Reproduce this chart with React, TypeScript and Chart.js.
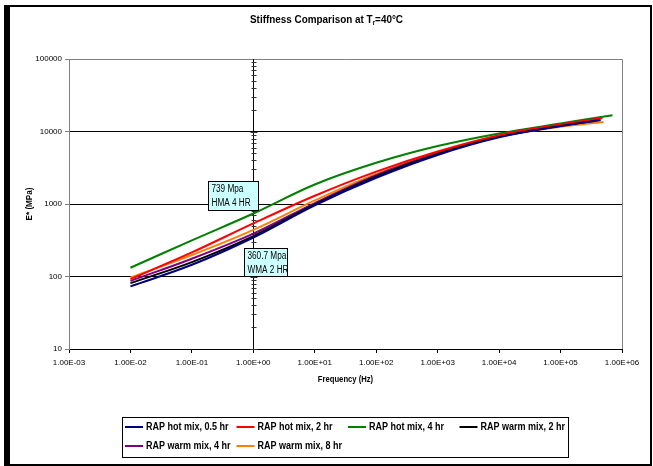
import React, { useEffect, useRef } from "react";
import { Chart, registerables } from "chart.js";
Chart.register(...registerables);

// ---- data ----
const seriesLabels = [
  "RAP hot mix, 0.5 hr",
  "RAP hot mix, 2 hr",
  "RAP hot mix, 4 hr",
  "RAP warm mix, 2 hr",
  "RAP warm mix, 4 hr",
  "RAP warm mix, 8 hr",
];
const seriesColors = ["#000080", "#FF0000", "#008000", "#000000", "#800080", "#FF8000"];

const hot05Freq = [0.01, 0.1, 1, 10, 100, 1000, 10000, 100000, 450000];
const hot05Values = [73, 145, 345, 960, 2300, 4750, 8300, 11900, 14400];
const hot2Freq = [0.01, 0.1, 1, 10, 100, 1000, 10000, 100000, 480000];
const hot2Values = [92, 215, 540, 1300, 2800, 5300, 8900, 12500, 15300];
const hot4Freq = [0.01, 0.1, 1, 10, 100, 1000, 10000, 100000, 700000];
const hot4Values = [132, 315, 739, 1860, 3700, 6300, 9400, 12900, 16800];
const warm2Freq = [0.01, 0.1, 1, 10, 100, 1000, 10000, 100000, 400000];
const warm2Values = [81, 158, 360.7, 985, 2400, 4900, 8500, 12000, 14200];
const warm4Freq = [0.01, 0.1, 1, 10, 100, 1000, 10000, 100000, 400000];
const warm4Values = [87, 176, 390, 1030, 2500, 5000, 8700, 12300, 14900];
const warm8Freq = [0.01, 0.1, 1, 10, 100, 1000, 10000, 100000, 500000];
const warm8Values = [97, 198, 440, 1120, 2600, 5100, 8500, 11600, 13500];

const seriesFreqs = [hot05Freq, hot2Freq, hot4Freq, warm2Freq, warm4Freq, warm8Freq];
const seriesValues = [hot05Values, hot2Values, hot4Values, warm2Values, warm4Values, warm8Values];

const xTickValues = [1e-3, 1e-2, 1e-1, 1, 1e1, 1e2, 1e3, 1e4, 1e5, 1e6];
const yTickValues = [10, 100, 1000, 10000, 100000];
const yGridValues = [100, 1000, 10000];

const annotX = [1, 1];
const annotY = [739, 360.7];
const annotText = [
  ["739 Mpa", "HMA 4 HR"],
  ["360.7 Mpa", "WMA 2 HR"],
];

const titleMain = "Stiffness Comparison at T";
const titleSub = "r";
const titleEnd = "=40°C";
const xTitle = "Frequency (Hz)";
const yTitle = "E* (MPa)";

const FONT = '"Liberation Sans", Arial, sans-serif';

function sci(v: number): string {
  const e = Math.floor(Math.log10(v) + 1e-9);
  const m = v / Math.pow(10, e);
  const sign = e < 0 ? "-" : "+";
  return m.toFixed(2) + "E" + sign + String(Math.abs(e)).padStart(2, "0");
}

function text(ctx: CanvasRenderingContext2D, s: string, x: number, y: number, font: string, align: CanvasTextAlign = "left", sx = 1) {
  ctx.save();
  ctx.font = font;
  ctx.textAlign = align;
  ctx.textBaseline = "middle";
  ctx.translate(x, y);
  ctx.scale(sx, 1);
  ctx.fillText(s, 0, 0);
  ctx.restore();
}

const decor = {
  id: "decor",
  beforeDraw(chart: any) {
    const ctx = chart.ctx as CanvasRenderingContext2D;
    ctx.save();
    ctx.fillStyle = "#fff";
    ctx.fillRect(0, 0, chart.width, chart.height);
    ctx.fillStyle = "#000";
    ctx.fillRect(4, 5, 6, 461);
    ctx.fillRect(4, 5, 648, 2);
    ctx.fillRect(650, 5, 2, 461);
    ctx.fillRect(4, 464, 648, 2);
    ctx.restore();
  },
  beforeDatasetsDraw(chart: any) {
    const ctx = chart.ctx as CanvasRenderingContext2D;
    const a = chart.chartArea;
    const xs = chart.scales.x;
    const ys = chart.scales.y;
    ctx.save();
    ctx.strokeStyle = "#808080";
    ctx.lineWidth = 1;
    ctx.beginPath();
    ctx.moveTo(a.left, Math.round(a.top) + 0.5);
    ctx.lineTo(a.right + 0.5, Math.round(a.top) + 0.5);
    ctx.lineTo(a.right + 0.5, a.bottom);
    ctx.stroke();
    // vertical axis crossing at 1 Hz with minor ticks
    const x1 = Math.round(xs.getPixelForValue(1)) + 0.5;
    ctx.strokeStyle = "#000";
    ctx.beginPath();
    ctx.moveTo(x1, a.top);
    ctx.lineTo(x1, a.bottom);
    ctx.stroke();
    ctx.strokeStyle = "#333";
    ctx.beginPath();
    for (let d = 10; d < 100000; d *= 10) {
      for (let k = 1; k <= 9; k++) {
        const y = Math.round(ys.getPixelForValue(k * d)) + 0.5;
        const len = k === 1 ? 3 : 2;
        ctx.moveTo(x1 - len, y);
        ctx.lineTo(x1 + len + 1, y);
      }
    }
    ctx.stroke();
    ctx.restore();
  },
  afterDatasetsDraw(chart: any) {
    const ctx = chart.ctx as CanvasRenderingContext2D;
    const xs = chart.scales.x;
    const ys = chart.scales.y;
    const boxes = [
      { dx: -45, dy: -33, w: 50, h: 29 },
      { dx: -9, dy: 12, w: 43, h: 28 },
    ];
    ctx.save();
    annotX.forEach((xv, i) => {
      const px = xs.getPixelForValue(xv);
      const py = ys.getPixelForValue(annotY[i]);
      const b = boxes[i];
      const l = Math.round(px + b.dx) + 0.5;
      const t = Math.round(py + b.dy) + 0.5;
      ctx.fillStyle = "#CCFFFF";
      ctx.fillRect(l, t, b.w, b.h);
      ctx.strokeStyle = "#000";
      ctx.lineWidth = 1;
      ctx.strokeRect(l, t, b.w, b.h);
      ctx.fillStyle = "#000";
      annotText[i].forEach((s, j) => {
        text(ctx, s, l + 3, t + 7.5 + j * 14, `10px ${FONT}`, "left", 0.82);
      });
    });
    ctx.restore();
  },
  afterDraw(chart: any) {
    const ctx = chart.ctx as CanvasRenderingContext2D;
    const a = chart.chartArea;
    ctx.save();
    ctx.fillStyle = "#000";
    // title with subscript
    const sx = 0.9;
    const fMain = `bold 11px ${FONT}`;
    const fSub = `bold 7px ${FONT}`;
    ctx.font = fMain;
    const w1 = ctx.measureText(titleMain).width * sx;
    const w3 = ctx.measureText(titleEnd).width * sx;
    ctx.font = fSub;
    const w2 = ctx.measureText(titleSub).width * sx;
    const cx = chart.width / 2;
    const tx = cx - (w1 + w2 + w3) / 2;
    text(ctx, titleMain, tx, 20, fMain, "left", sx);
    text(ctx, titleSub, tx + w1, 23.5, fSub, "left", sx);
    text(ctx, titleEnd, tx + w1 + w2, 20, fMain, "left", sx);
    // axis titles
    text(ctx, xTitle, (a.left + a.right) / 2, 380, `bold 8.5px ${FONT}`, "center", 0.9);
    ctx.save();
    ctx.translate(30, (a.top + a.bottom) / 2);
    ctx.rotate(-Math.PI / 2);
    text(ctx, yTitle, 0, 0, `bold 8.5px ${FONT}`, "center", 0.95);
    ctx.restore();
    // legend
    ctx.strokeStyle = "#000";
    ctx.lineWidth = 1;
    ctx.strokeRect(122.5, 417.5, 446, 40);
    chart.data.datasets.forEach((ds: any, i: number) => {
      const colX = 125 + (i % 4) * 111.5;
      const rowY = 427 + Math.floor(i / 4) * 19;
      ctx.strokeStyle = ds.borderColor;
      ctx.lineWidth = 2;
      ctx.beginPath();
      ctx.moveTo(colX, rowY);
      ctx.lineTo(colX + 18, rowY);
      ctx.stroke();
      ctx.fillStyle = "#000";
      text(ctx, ds.label, colX + 21, rowY, `bold 10px ${FONT}`, "left", 0.9);
    });
    ctx.restore();
  },
};

export default function App() {
  const ref = useRef<HTMLCanvasElement>(null);
  useEffect(() => {
    if (!ref.current) return;
    const datasets = seriesLabels.map((label, i) => ({
      label,
      data: seriesFreqs[i].map((f, j) => ({ x: f, y: seriesValues[i][j] })),
      borderColor: seriesColors[i],
      backgroundColor: seriesColors[i],
      borderWidth: 2,
      pointRadius: 0,
      fill: false,
      tension: 0.35,
    }));
    const chart = new Chart(ref.current, {
      type: "line",
      data: { datasets },
      options: {
        responsive: false,
        animation: false,
        devicePixelRatio: 1,
        layout: { padding: { top: 59, right: 31, left: 0, bottom: 0 } },
        plugins: { legend: { display: false }, title: { display: false }, tooltip: { enabled: false } },
        scales: {
          x: {
            type: "logarithmic",
            min: 1e-3,
            max: 1e6,
            afterBuildTicks: (s: any) => {
              s.ticks = xTickValues.map((v) => ({ value: v }));
            },
            afterFit: (s: any) => {
              s.height = 117;
            },
            ticks: {
              autoSkip: false,
              maxRotation: 0,
              padding: 5,
              color: "#000",
              font: { family: FONT, size: 8 },
              callback: (v: any) => sci(Number(v)),
            },
            grid: { drawOnChartArea: false, tickLength: 4, tickColor: "#000" },
            border: { display: true, color: "#000", width: 1 },
          },
          y: {
            type: "logarithmic",
            min: 10,
            max: 100000,
            afterBuildTicks: (s: any) => {
              s.ticks = yTickValues.map((v) => ({ value: v }));
            },
            afterFit: (s: any) => {
              s.width = 69;
            },
            ticks: {
              autoSkip: false,
              padding: 3,
              color: "#000",
              font: { family: FONT, size: 8 },
              callback: (v: any) => String(Number(v)),
            },
            grid: {
              tickLength: 4,
              tickColor: "#808080",
              color: (c: any) => (c.tick && yGridValues.includes(c.tick.value) ? "#000" : "rgba(0,0,0,0)"),
            },
            border: { display: true, color: "#808080", width: 1 },
          },
        },
      },
      plugins: [decor],
    });
    return () => chart.destroy();
  }, []);
  return (
    <div style={{ position: "fixed", left: 0, top: 0, width: 653, height: 466, background: "#fff" }}>
      <canvas ref={ref} width={653} height={466} style={{ display: "block", width: 653, height: 466 }} />
    </div>
  );
}
